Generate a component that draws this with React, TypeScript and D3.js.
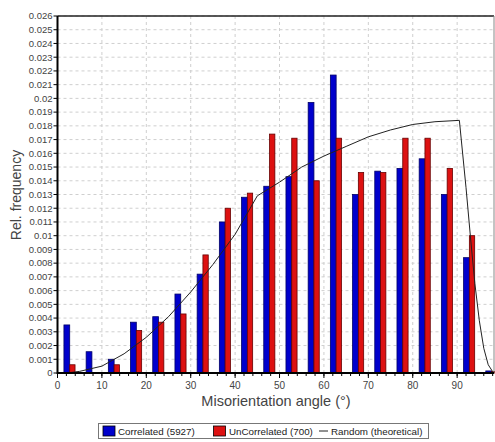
import React from 'react';
import * as d3 from 'd3';

// bin centres (degrees), 5 degree bins
const binCenters = [2.5, 7.5, 12.5, 17.5, 22.5, 27.5, 32.5, 37.5, 42.5, 47.5, 52.5, 57.5, 62.5, 67.5, 72.5, 77.5, 82.5, 87.5, 92.5, 97.5];
const correlated = [0.0035, 0.00155, 0.001, 0.0037, 0.0041, 0.00575, 0.0072, 0.011, 0.0128, 0.0136, 0.0143, 0.0197, 0.0217, 0.013, 0.0147, 0.0149, 0.0156, 0.013, 0.0084, 0.00015];
const uncorrelated = [0.0006, 0, 0.0006, 0.0031, 0.0037, 0.0043, 0.0086, 0.012, 0.0131, 0.0174, 0.0171, 0.014, 0.0171, 0.0146, 0.0146, 0.0171, 0.0171, 0.0149, 0.01, 0.0001];

// theoretical random distribution (angle, freq)
const randomAngles = [0, 2, 5, 10, 15, 20, 25, 30, 35, 40, 45, 50, 55, 60, 65, 70, 75, 80, 85, 90.5, 92, 93, 94, 95, 96, 97, 98];
const randomFreq = [0, 0, 0.00012, 0.0005, 0.0014, 0.0026, 0.0041, 0.0059, 0.0079, 0.0101, 0.0129, 0.0139, 0.015, 0.0158, 0.0165, 0.0172, 0.0177, 0.0181, 0.0183, 0.0184, 0.0135, 0.0099, 0.0065, 0.0038, 0.0018, 0.0006, 0.0001];

const yTicks = d3.range(0, 27).map(i => i / 1000);
const xTicks = [0, 10, 20, 30, 40, 50, 60, 70, 80, 90];

const W = 495;
const H = 442;
const left = 57.5;
const right = 494;
const top = 16;
const bottom = 373;

const App: React.FC = () => {
  const x = d3.scaleLinear().domain([0, 98.3]).range([left, right]);
  const y = d3.scaleLinear().domain([0, 0.026]).range([bottom, top]);

  const line = d3
    .line<number>()
    .x((_, i) => x(randomAngles[i]))
    .y(d => y(d));

  const font = 'Arial, "Liberation Sans", sans-serif';
  const minorTicks = d3.range(0, 99, 2);

  return (
    <svg width={W} height={H} style={{ position: 'absolute', left: 0, top: 0, background: '#fff', fontFamily: font }}>
      <rect x={0} y={0} width={W} height={H} fill="#fff" />
      {/* grid */}
      {yTicks.slice(1).map(t => (
        <line key={'gy' + t} x1={left} x2={right} y1={y(t)} y2={y(t)} stroke="#cfcfcf" strokeDasharray="3,3" strokeWidth={1} />
      ))}
      {xTicks.slice(1).map(t => (
        <line key={'gx' + t} x1={x(t)} x2={x(t)} y1={top} y2={bottom} stroke="#cfcfcf" strokeDasharray="3,3" strokeWidth={1} />
      ))}

      {/* bars */}
      {binCenters.map((c, i) => (
        <g key={'b' + c}>
          {correlated[i] > 0 && (
            <rect
              x={x(c - 1.05)}
              y={y(correlated[i])}
              width={x(c + 0.25) - x(c - 1.05)}
              height={bottom - y(correlated[i])}
              fill="#0000cc"
              stroke="#000066"
              strokeWidth={0.8}
            />
          )}
          {uncorrelated[i] > 0 && (
            <rect
              x={x(c + 0.25)}
              y={y(uncorrelated[i])}
              width={x(c + 1.45) - x(c + 0.25)}
              height={bottom - y(uncorrelated[i])}
              fill="#dd1111"
              stroke="#660000"
              strokeWidth={0.8}
            />
          )}
        </g>
      ))}

      {/* random curve */}
      <path d={line(randomFreq) || ''} fill="none" stroke="#222" strokeWidth={1} />

      {/* frame */}
      <line x1={left} x2={right} y1={top} y2={top} stroke="#222" strokeWidth={1.5} />
      <line x1={right} x2={right} y1={top} y2={bottom} stroke="#888" strokeWidth={1} />
      <line x1={left} x2={left} y1={top} y2={bottom + 1} stroke="#000" strokeWidth={2} />
      <line x1={left} x2={right} y1={bottom} y2={bottom} stroke="#000" strokeWidth={2} />

      {/* y axis */}
      {yTicks.map(t => (
        <g key={'yt' + t}>
          <line x1={left - 4} x2={left} y1={y(t)} y2={y(t)} stroke="#000" />
          <text x={left - 5} y={y(t)} dy="0.35em" textAnchor="end" fontSize={9.5} fill="#444">
            {String(+t.toFixed(3))}
          </text>
        </g>
      ))}
      <text
        transform={`translate(21,195) rotate(-90)`}
        textAnchor="middle"
        fontSize={14}
        fill="#444"
      >
        Rel. frequency
      </text>

      {/* x axis */}
      {minorTicks.map(t => (
        <line key={'xm' + t} x1={x(t)} x2={x(t)} y1={bottom} y2={bottom + 3} stroke="#000" />
      ))}
      {xTicks.map(t => (
        <g key={'xt' + t}>
          <line x1={x(t)} x2={x(t)} y1={bottom} y2={bottom + 5} stroke="#000" />
          <text x={x(t)} y={bottom + 16} textAnchor="middle" fontSize={10} fill="#444">
            {t}
          </text>
        </g>
      ))}
      <text x={276} y={406} textAnchor="middle" fontSize={14.5} fill="#444">
        Misorientation angle (°)
      </text>

      {/* legend */}
      <rect x={98.5} y={423.5} width={330} height={15} fill="#fff" stroke="#777" />
      <rect x={103} y={426} width={12} height={10} fill="#0000cc" stroke="#000" strokeWidth={0.8} />
      <text x={118} y={434.5} fontSize={9.8} fill="#222">Correlated (5927)</text>
      <rect x={213.5} y={426} width={12} height={10} fill="#dd1111" stroke="#000" strokeWidth={0.8} />
      <text x={229} y={434.5} fontSize={9.8} fill="#222">UnCorrelated (700)</text>
      <line x1={319} x2={328} y1={431} y2={431} stroke="#222" />
      <text x={331} y={434.5} fontSize={9.8} fill="#222">Random (theoretical)</text>
    </svg>
  );
};

export default App;
